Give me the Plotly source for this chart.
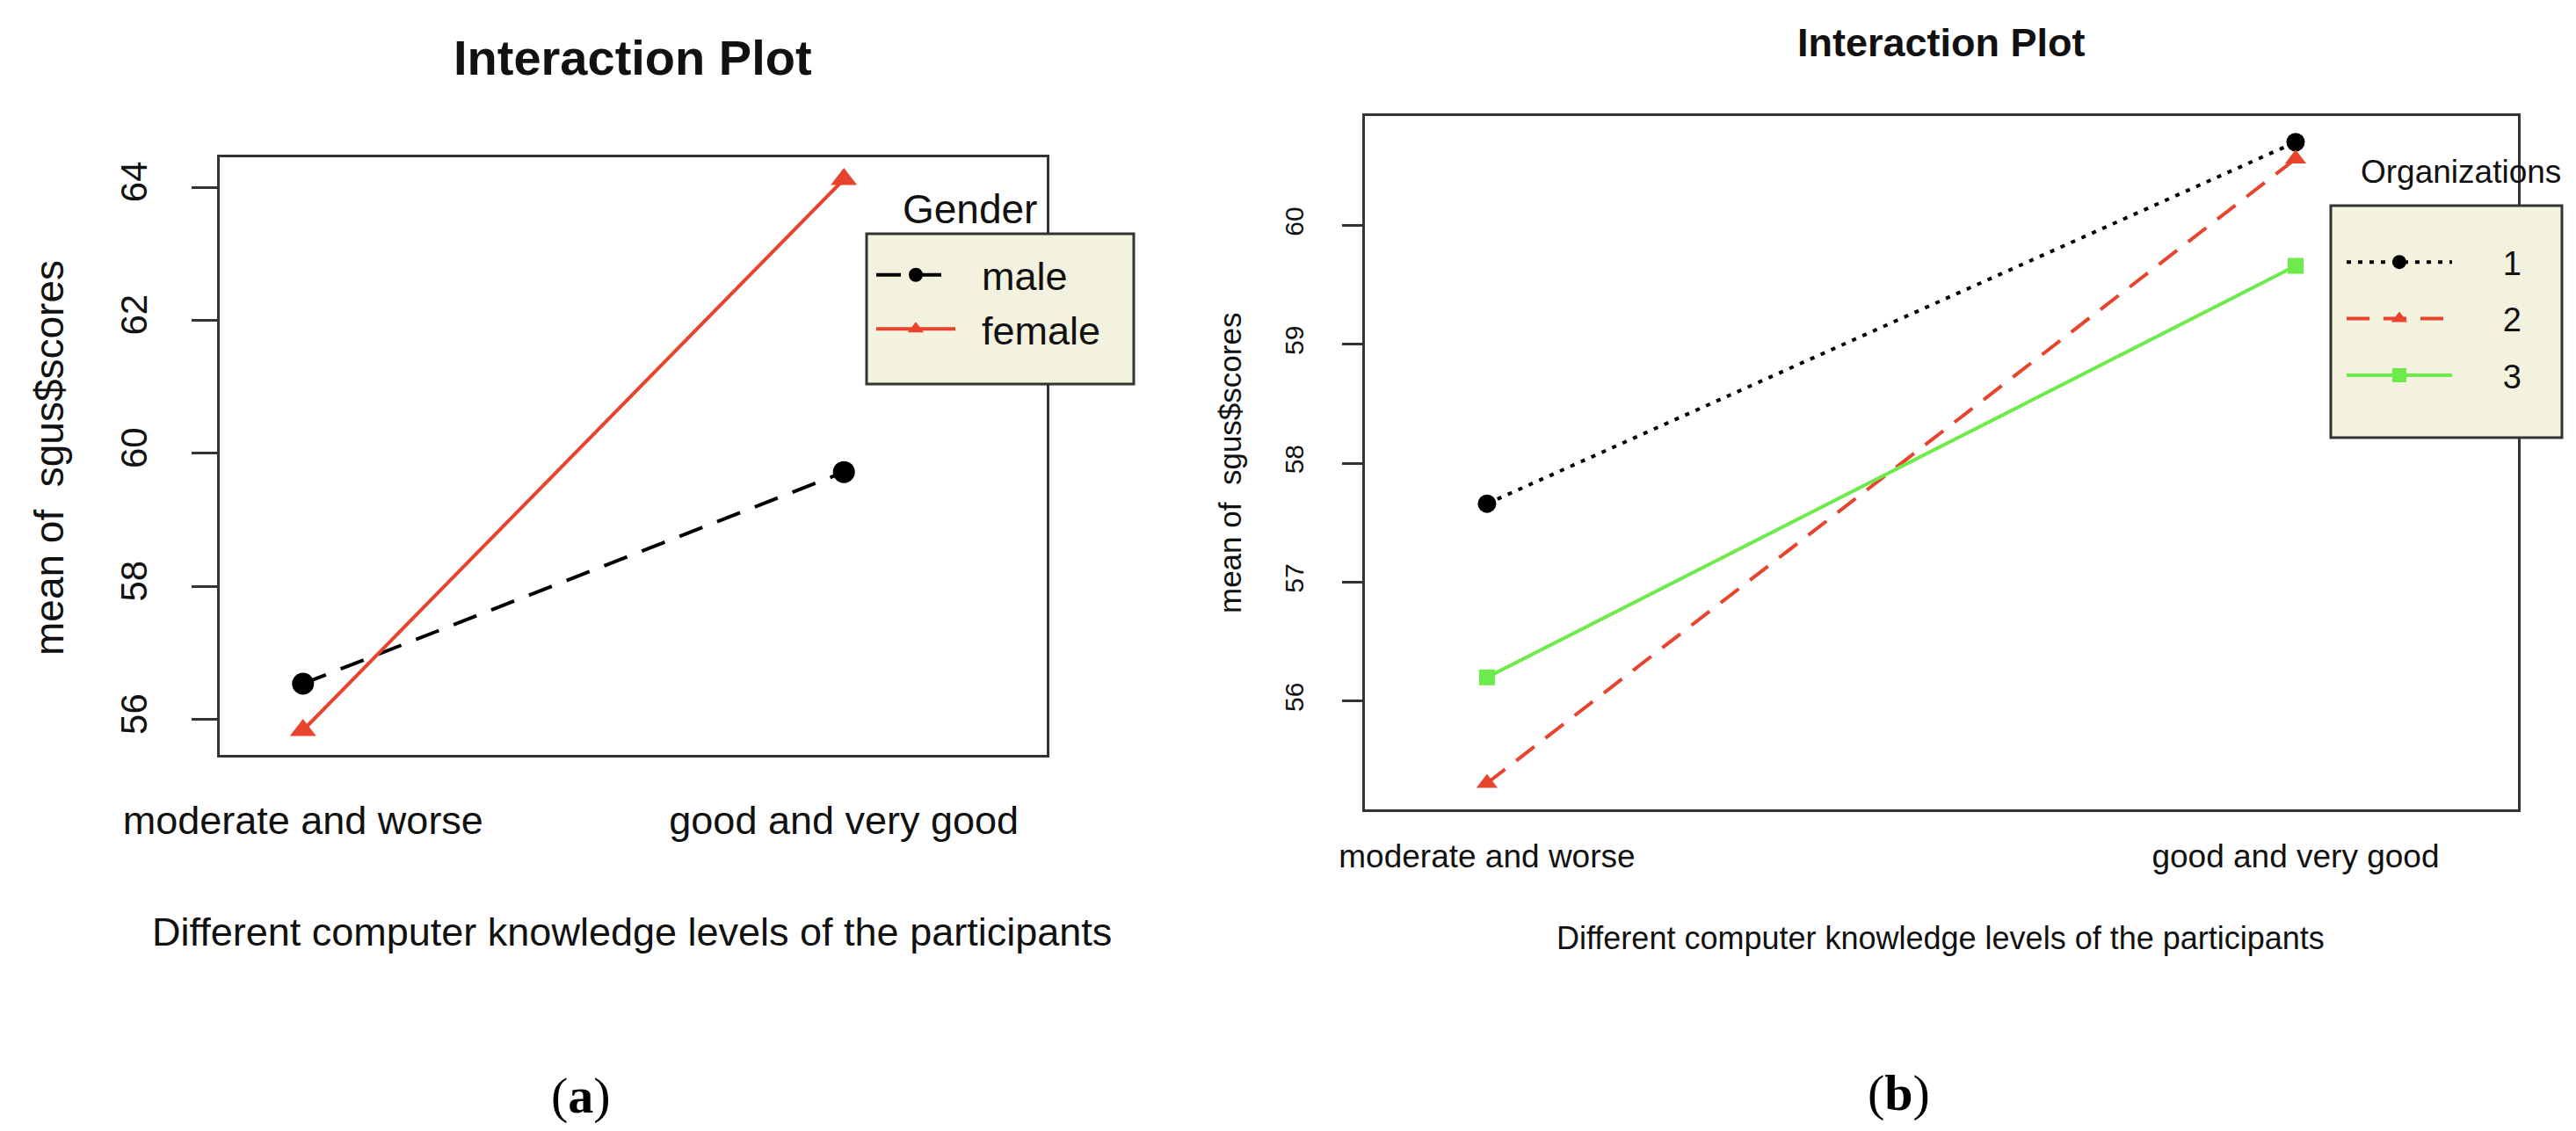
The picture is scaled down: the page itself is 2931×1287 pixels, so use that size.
import plotly.graph_objects as go

# ---------------- data ----------------
levels = ["moderate and worse", "good and very good"]

gender_names = ["male", "female"]
male_means = [56.54, 59.72]
female_means = [55.84, 64.12]

org_names = ["1", "2", "3"]
org1_means = [57.66, 60.70]
org2_means = [55.31, 60.56]
org3_means = [56.20, 59.66]

yticks_a = [56, 58, 60, 62, 64]
yticks_b = [56, 57, 58, 59, 60]

# ---------------- style ----------------
W, H = 2931, 1287
FONT = "Liberation Sans, Arial, Helvetica, sans-serif"
RED = "#E8432D"
GREEN = "#6CEB4A"
BLACK = "#000000"
BOX = "#333333"
BEIGE = "#F3F2DF"
NB = "\u00a0"

def px(x):
    return x / W

def py(y):
    return 1 - y / H

fig = go.Figure()

# panel (a)
fig.add_trace(go.Scatter(
    x=levels, y=male_means, name=NB * 2 + gender_names[0], mode="lines+markers",
    line=dict(color=BLACK, width=4, dash="28px,18px"),
    marker=dict(symbol="circle", size=25, color=BLACK),
    xaxis="x", yaxis="y", legend="legend", legendgroup="m"))
fig.add_trace(go.Scatter(
    x=levels, y=female_means, name=NB * 2 + gender_names[1], mode="lines+markers",
    line=dict(color=RED, width=4),
    marker=dict(symbol="triangle-up", size=26, color=RED),
    xaxis="x", yaxis="y", legend="legend", legendgroup="f"))

# panel (b)
fig.add_trace(go.Scatter(
    x=levels, y=org1_means, name=NB * 5 + org_names[0], mode="lines+markers",
    line=dict(color=BLACK, width=4, dash="5px,8px"),
    marker=dict(symbol="circle", size=21, color=BLACK),
    xaxis="x2", yaxis="y2", legend="legend2", legendgroup="o1"))
fig.add_trace(go.Scatter(
    x=levels, y=org2_means, name=NB * 5 + org_names[1], mode="lines+markers",
    line=dict(color=RED, width=4, dash="26px,16px"),
    marker=dict(symbol="triangle-up", size=21, color=RED),
    xaxis="x2", yaxis="y2", legend="legend2", legendgroup="o2"))
fig.add_trace(go.Scatter(
    x=levels, y=org3_means, name=NB * 5 + org_names[2], mode="lines+markers",
    line=dict(color=GREEN, width=4),
    marker=dict(symbol="square", size=18, color=GREEN),
    xaxis="x2", yaxis="y2", legend="legend2", legendgroup="o3"))

axis_common = dict(showgrid=False, zeroline=False, showline=True, mirror=True,
                   linecolor=BOX, linewidth=3, automargin=False)

fig.update_layout(
    width=W, height=H,
    margin=dict(l=0, r=0, t=0, b=0, pad=0, autoexpand=False),
    paper_bgcolor="white", plot_bgcolor="white",
    font=dict(family=FONT, color="#111111"),
    xaxis=dict(domain=[px(242), px(1183)], range=[-0.154, 1.375],
               type="category", categoryarray=levels, ticks="", ticklen=0,
               tickfont=dict(size=45, family=FONT, color="#111"),
               ticklabelstandoff=33, anchor="y", **axis_common),
    yaxis=dict(domain=[py(851), py(171)], range=[55.47, 64.45],
               tickvals=yticks_a, ticks="outside", ticklen=29, tickwidth=3,
               tickcolor=BOX, tickangle=-90,
               tickfont=dict(size=42, family=FONT, color="#111"),
               ticklabelstandoff=34, anchor="x", **axis_common),
    xaxis2=dict(domain=[px(1545), px(2857)], range=[-0.151, 1.275],
                type="category", categoryarray=levels, ticks="", ticklen=0,
                tickfont=dict(size=37, family=FONT, color="#111"),
                ticklabelstandoff=19, anchor="y2", **axis_common),
    yaxis2=dict(domain=[py(913), py(124)], range=[55.09, 60.92],
                tickvals=yticks_b, ticks="outside", ticklen=23, tickwidth=3,
                tickcolor=BOX, tickangle=-90,
                tickfont=dict(size=30, family=FONT, color="#111"),
                ticklabelstandoff=32, anchor="x2", **axis_common),
    legend=dict(x=px(984), y=py(269), xanchor="left", yanchor="top",
                bgcolor="rgba(0,0,0,0)", borderwidth=0,
                font=dict(size=45, family=FONT, color="#111"),
                itemwidth=90, tracegroupgap=0, itemsizing="trace"),
    legend2=dict(x=px(2657), y=py(259), xanchor="left", yanchor="top",
                 bgcolor="rgba(0,0,0,0)", borderwidth=0,
                 font=dict(size=38, family=FONT, color="#111"),
                 itemwidth=120, tracegroupgap=12, itemsizing="trace"),
    showlegend=True,
    shapes=[
        dict(type="rect", xref="paper", yref="paper",
             x0=px(978), x1=px(1282), y0=py(429), y1=py(258),
             fillcolor=BEIGE, line=dict(color=BOX, width=3), layer="above"),
        dict(type="rect", xref="paper", yref="paper",
             x0=px(2644), x1=px(2907), y0=py(490), y1=py(226),
             fillcolor=BEIGE, line=dict(color=BOX, width=3), layer="above"),
    ],
)

ann = [
    dict(text="<b>Interaction Plot</b>", x=px(712), y=py(58), font=dict(size=56)),
    dict(text="<b>Interaction Plot</b>", x=px(2201), y=py(40), font=dict(size=45)),
    dict(text="Different computer knowledge levels of the participants",
         x=px(711), y=py(1052), font=dict(size=45)),
    dict(text="Different computer knowledge levels of the participants",
         x=px(2200), y=py(1059), font=dict(size=36)),
    dict(text="mean of  sgus$scores", x=px(48), y=py(513), textangle=-90,
         font=dict(size=46)),
    dict(text="mean of  sgus$scores", x=px(1391), y=py(519), textangle=-90,
         font=dict(size=35)),
    dict(text="Gender", x=px(1095), y=py(230), font=dict(size=46)),
    dict(text="Organizations", x=px(2792), y=py(187), font=dict(size=37)),
    dict(text="(<b>a</b>)", x=px(653), y=py(1238),
         font=dict(size=58, family="Liberation Serif, Times New Roman, serif", color="#000")),
    dict(text="(<b>b</b>)", x=px(2152), y=py(1235),
         font=dict(size=58, family="Liberation Serif, Times New Roman, serif", color="#000")),
]
for a in ann:
    a.setdefault("xref", "paper")
    a.setdefault("yref", "paper")
    a.setdefault("showarrow", False)
    a.setdefault("xanchor", "center")
    a.setdefault("yanchor", "middle")
    f = a["font"]
    f.setdefault("family", FONT)
    f.setdefault("color", "#111111")
fig.update_layout(annotations=ann)

fig.write_html("out.html")
